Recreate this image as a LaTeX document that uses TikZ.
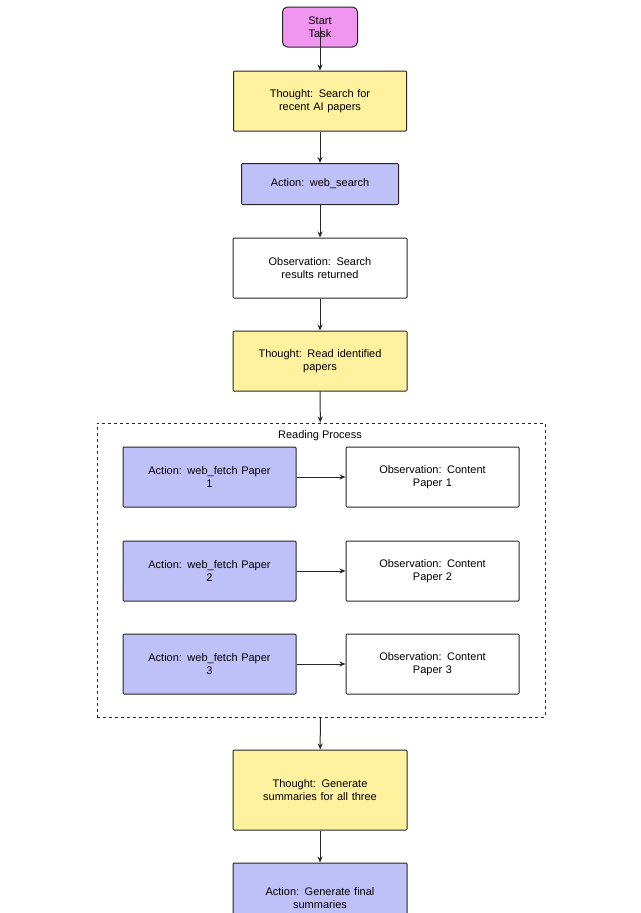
\documentclass[tikz,border=0pt]{standalone}
\usepackage{fontspec}
\setmainfont{Liberation Sans}
\usetikzlibrary{arrows.meta}
\begin{document}
\begin{tikzpicture}[x=1pt,y=-1pt,
 box/.style={draw=black!85,line width=1pt,rounded corners=1pt,align=center,font=\fontsize{11}{13}\selectfont,inner sep=2pt},
 th/.style={box,fill={rgb,255:red,255;green,241;blue,158}},
 ac/.style={box,fill={rgb,255:red,192;green,192;blue,248}},
 ob/.style={box,fill=white},
 arr/.style={-{Stealth[length=6pt,width=5pt]},line width=1pt,black!85}]
\useasboundingbox (0,0) rectangle (640,913);
\begin{scope}
\clip (0,0) rectangle (640,913);
\node[box,fill={rgb,255:red,240;green,150;blue,240},rounded corners=5pt,minimum width=75pt,minimum height=40pt,text width=70pt] (s) at (320,27) {Start\\Task};
\node[th,minimum width=173pt,minimum height=60pt,text width=165pt] (t1) at (320,101) {Thought: Search for\\recent AI papers};
\node[ac,minimum width=157pt,minimum height=41pt,text width=150pt] (a1) at (320,184) {Action: web\_search};
\node[ob,minimum width=174pt,minimum height=60pt,text width=165pt] (o1) at (320,268) {Observation: Search\\results returned};
\node[th,minimum width=174pt,minimum height=60pt,text width=168pt] (t2) at (320,361) {Thought: Read identified\\papers};
\node[draw=black!85,dashed,line width=1pt,minimum width=448pt,minimum height=294pt] (g) at (321,570) {};
\node[font=\fontsize{11}{13}\selectfont] (gl) at (320,436) {Reading Process};
\foreach \i/\y in {1/477,2/571,3/664}{
 \node[ac,minimum width=173pt,minimum height=60pt,text width=168pt] (p\i) at (209.5,\y) {Action: web\_fetch Paper\\\i};
 \node[ob,minimum width=173pt,minimum height=60pt,text width=168pt] (c\i) at (432.5,\y) {Observation: Content\\Paper \i};
 \draw[arr] (p\i) -- (c\i);
}
\node[th,minimum width=174pt,minimum height=80pt,text width=168pt] (t3) at (320,790) {Thought: Generate\\summaries for all three};
\node[ac,minimum width=174pt,minimum height=70pt,text width=168pt] (a2) at (320,898) {Action: Generate final\\summaries};
\draw[arr] (s.center) -- (t1);
\draw[arr] (t1) -- (a1);
\draw[arr] (a1) -- (o1);
\draw[arr] (o1) -- (t2);
\draw[arr] (t2) -- (g);
\draw[arr] (g) -- (t3);
\draw[arr] (t3) -- (a2);
\end{scope}
\end{tikzpicture}
\end{document}
